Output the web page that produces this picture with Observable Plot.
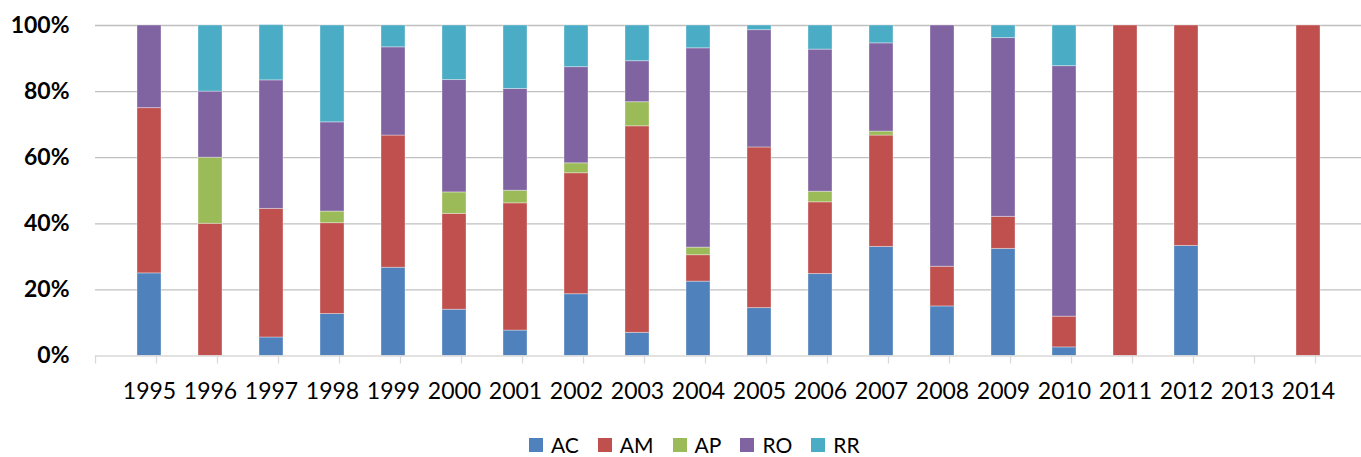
<!DOCTYPE html>
<html>
<head>
<meta charset="utf-8">
<script src="https://cdn.jsdelivr.net/npm/d3@7"></script>
<script src="https://cdn.jsdelivr.net/npm/@observablehq/plot@0.6"></script>
<style>
  html, body { margin: 0; padding: 0; background: #fff; }
  #chart { position: relative; width: 1361px; height: 457px; font-family: Lato, "Open Sans", sans-serif; }
  #legend { position: absolute; left: 529px; top: 432px; display: flex; align-items: center; font-size: 21px; color: #000; line-height: normal; }
  #legend .item { display: flex; align-items: center; margin-right: 19px; }
  #legend .sw { width: 14px; height: 14px; margin-right: 8px; }
</style>
</head>
<body>
<div id="chart"></div>
<script>
// Share of records per state, by year (percent of the year's total)
const years = ["1995","1996","1997","1998","1999","2000","2001","2002","2003","2004",
               "2005","2006","2007","2008","2009","2010","2011","2012","2013","2014"];
const series = ["AC", "AM", "AP", "RO", "RR"];
const colors = ["#4F81BD", "#C0504D", "#9BBB59", "#8064A2", "#4BACC6"];

const AC = [25, 0, 5.6, 12.7, 26.7, 14, 7.7, 18.7, 7, 22.5, 14.5, 24.8, 33, 15, 32.4, 2.6, 0, 33.3, 0, 0];
const AM = [50, 40, 38.9, 27.5, 40, 29, 38.5, 36.6, 62.5, 8, 48.6, 21.7, 33.7, 12, 9.7, 9.3, 100, 66.7, 0, 100];
const AP = [0, 20, 0, 3.5, 0, 6.5, 3.8, 3, 7.3, 2.3, 0, 3.2, 1.2, 0, 0, 0, 0, 0, 0, 0];
const RO = [25, 20, 38.9, 27, 26.7, 34, 30.8, 29.1, 12.4, 60.3, 35.5, 43, 26.7, 73, 54.1, 75.8, 0, 0, 0, 0];
const RR = [0, 20, 16.7, 29.3, 6.6, 16.5, 19.2, 12.6, 10.8, 6.9, 1.4, 7.3, 5.4, 0, 3.8, 12.3, 0, 0, 0, 0];

const yTicks = [0, 20, 40, 60, 80, 100];

const valuesBySeries = {AC, AM, AP, RO, RR};
const rows = [];
years.forEach((year, i) => {
  series.forEach(s => rows.push({year, series: s, value: valuesBySeries[s][i]}));
});

// Tick marks between categories, hanging below the baseline
function categoryTicks(index, scales) {
  const x = scales.x, y = scales.y;
  const [r0] = x.range();
  const step = x.step();
  const y0 = y(0);
  const g = d3.create("svg:g").attr("stroke", "#d9d9d9").attr("stroke-width", 1.3);
  for (let i = 0; i <= years.length; i++) {
    const px = Math.round(r0 + i * step) + 0.5;
    g.append("line").attr("x1", px).attr("x2", px).attr("y1", y0).attr("y2", y0 + 8);
  }
  return g.node();
}

const chart = Plot.plot({
  width: 1361,
  height: 425,
  marginLeft: 95,
  marginRight: 0,
  marginTop: 25,
  marginBottom: 69.5,
  style: {fontFamily: "Lato, 'Open Sans', sans-serif", fontSize: "22px", color: "#000", background: "#fff"},
  x: {domain: years, padding: 0.61, label: null},
  y: {domain: [0, 100], label: null},
  color: {domain: series, range: colors},
  marks: [
    Plot.ruleY(yTicks.filter(d => d > 0), {stroke: "#bfbfbf", strokeWidth: 1.3}),
    Plot.barY(rows, Plot.stackY({
      x: "year", y: "value", fill: "series",
      stroke: "#ffffff", strokeOpacity: 0.35, strokeWidth: 1
    })),
    Plot.ruleY([0], {stroke: "#d9d9d9", strokeWidth: 1.3}),
    categoryTicks,
    Plot.axisY({ticks: yTicks, tickFormat: d => d + "%", tickSize: 0, tickPadding: 26,
                fontWeight: "bold", fontSize: 23, label: null}),
    Plot.axisX({tickSize: 0, tickPadding: 27, fontSize: 23, label: null})
  ]
});

const root = document.getElementById("chart");
root.appendChild(chart);

const legend = document.createElement("div");
legend.id = "legend";
series.forEach((s, i) => {
  const item = document.createElement("div");
  item.className = "item";
  const sw = document.createElement("span");
  sw.className = "sw";
  sw.style.background = colors[i];
  const label = document.createElement("span");
  label.textContent = s;
  item.appendChild(sw);
  item.appendChild(label);
  legend.appendChild(item);
});
root.appendChild(legend);
</script>
</body>
</html>
